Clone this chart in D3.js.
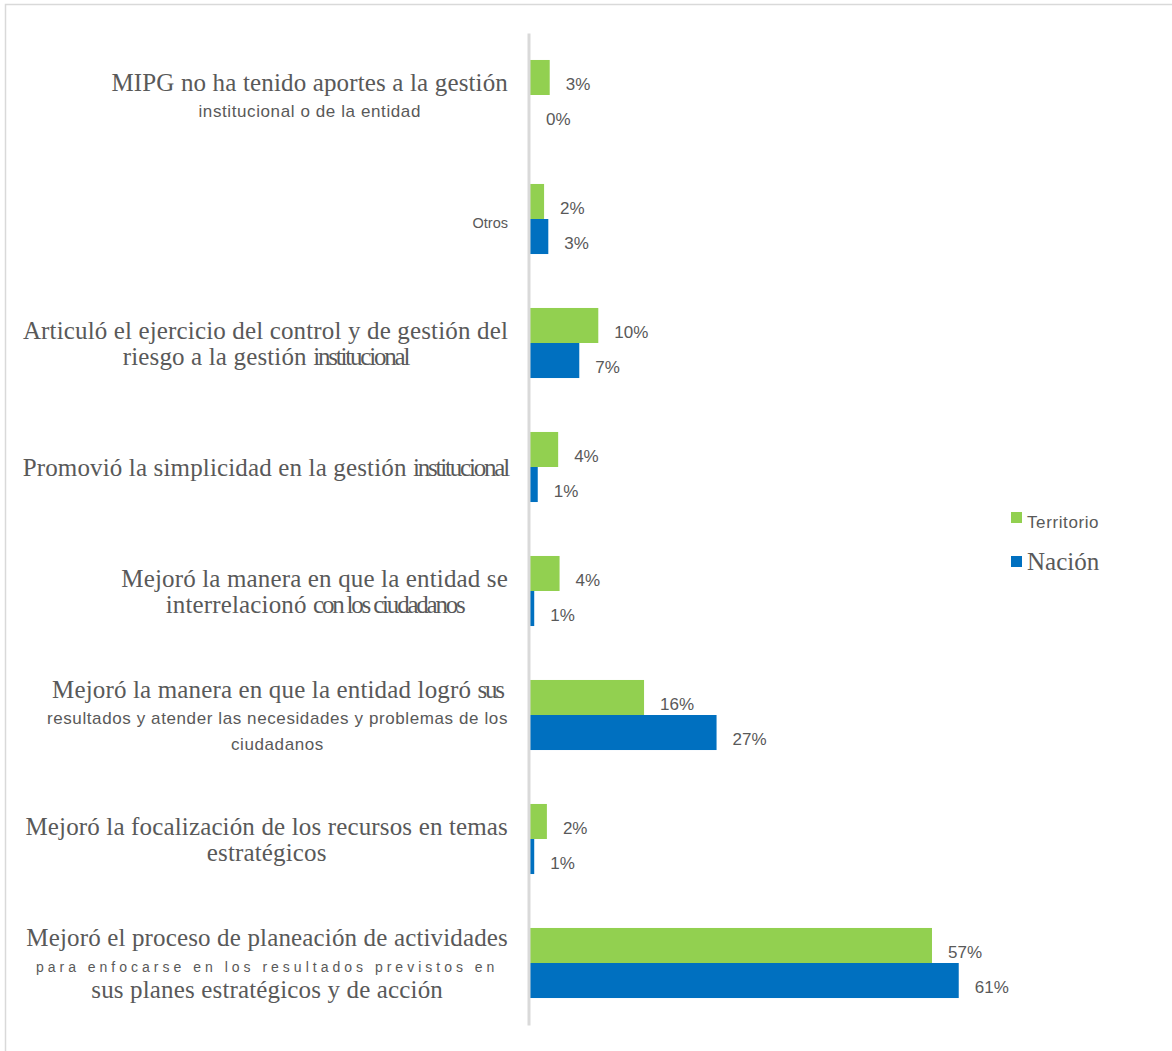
<!DOCTYPE html>
<html>
<head>
<meta charset="utf-8">
<script src="https://cdn.jsdelivr.net/npm/d3@7"></script>
<style>
  body { margin: 0; background: #fff; }
  svg { display: block; }
</style>
</head>
<body>
<svg class="chart"></svg>
<script>
// Categories (top to bottom) and the two series, in percent
var categories = [
    "MIPG no ha tenido aportes a la gestión institucional o de la entidad",
    "Otros",
    "Articuló el ejercicio del control y de gestión del riesgo a la gestión institucional",
    "Promovió la simplicidad en la gestión institucional",
    "Mejoró la manera en que la entidad se interrelacionó con los ciudadanos",
    "Mejoró la manera en que la entidad logró sus resultados y atender las necesidades y problemas de los ciudadanos",
    "Mejoró la focalización de los recursos en temas estratégicos",
    "Mejoró el proceso de planeación de actividades para enfocarse en los resultados previstos en sus planes estratégicos y de acción"
];
var territorio = [2.8, 2.0, 9.7, 4.0, 4.2, 16.2, 2.4, 57.1];
var nacion = [0, 2.6, 7.0, 1.1, 0.6, 26.5, 0.6, 60.9];
var seriesNames = ["Territorio", "Nación"];
var seriesColors = ["#92d050", "#0070c0"];

// How each category label is broken into lines (text + font kind per piece)
var labelLines = [
    [[["serif", "MIPG no ha tenido aportes a la gestión"]], [["sans", "institucional o de la entidad"]]],
    [[["small", "Otros"]]],
    [[["serif", "Articuló el ejercicio del control y de gestión del"]], [["serif", "riesgo a la gestión "], ["cond", "institucional"]]],
    [[["serif", "Promovió la simplicidad en la gestión "], ["cond", "institucional"]]],
    [[["serif", "Mejoró la manera en que la entidad se"]], [["serif", "interrelacionó "], ["cond", "con los ciudadanos"]]],
    [[["serif", "Mejoró la manera en que la entidad logró "], ["cond", "sus"]], [["sans", "resultados y atender las necesidades y problemas de los"]], [["sans", "ciudadanos"]]],
    [[["serif", "Mejoró la focalización de los recursos en temas"]], [["serif", "estratégicos"]]],
    [[["serif", "Mejoró el proceso de planeación de actividades"]], [["spaced", "para enfocarse en los resultados previstos en"]], [["serif", "sus planes estratégicos y de acción"]]]
];

var fonts = {
    serif:  { family: "'Liberation Serif', serif", size: 25, spacing: 0.15 },
    cond:   { family: "'Liberation Serif', serif", size: 25, spacing: -2.2 },
    sans:   { family: "'Liberation Sans', Arial, sans-serif", size: 17, spacing: 0.6 },
    small:  { family: "'Liberation Sans', Arial, sans-serif", size: 14.5, spacing: 0 },
    spaced: { family: "'Liberation Sans', Arial, sans-serif", size: 14, spacing: 4 }
};

const width = 1172;
const height = 1051;
const textColor = "#595959";
const axisX = 530;
const labelRight = 508;

var svg = d3.select(".chart")
    .attr("width", width)
    .attr("height", height);

// chart frame
svg.append("path")
    .attr("d", "M5.5," + height + "V4.5H" + width)
    .attr("fill", "none")
    .attr("stroke", "#d9d9d9")
    .attr("stroke-width", 1.5);

// x position (percent)
var x = d3.scaleLinear()
    .domain([0, 100])
    .range([axisX, axisX + 704]);

// y position of each category
var y = d3.scaleBand()
    .domain(categories)
    .range([33, 1025])
    .padding(0);

// position of each series inside a category
var ySub = d3.scaleBand()
    .domain(seriesNames)
    .range([0, y.bandwidth()])
    .paddingInner(0)
    .paddingOuter(0.77);

var rows = [];
categories.forEach((c, i) => {
    rows.push({ cat: c, series: seriesNames[0], value: territorio[i], color: seriesColors[0] });
    rows.push({ cat: c, series: seriesNames[1], value: nacion[i], color: seriesColors[1] });
});

// bars
svg.selectAll("rect.bar")
    .data(rows)
    .enter()
    .append("rect")
    .attr("class", "bar")
    .attr("x", x(0))
    .attr("y", d => y(d.cat) + ySub(d.series))
    .attr("width", d => x(d.value) - x(0))
    .attr("height", ySub.bandwidth())
    .attr("fill", d => d.color);

// vertical category axis (line only)
var yAxisGroup = svg.append("g")
    .attr("transform", "translate(" + (axisX - 1.5) + ",0)")
    .call(d3.axisLeft(y).tickSize(0).tickSizeOuter(0).tickFormat(""));
yAxisGroup.select(".domain")
    .attr("stroke", "#d9d9d9")
    .attr("stroke-width", 3);

// value labels
svg.selectAll(".count-label")
    .data(rows)
    .enter()
    .append("text")
    .attr("class", "count-label")
    .attr("x", d => x(d.value) + 16)
    .attr("y", d => y(d.cat) + ySub(d.series) + ySub.bandwidth() / 2 + 6.5)
    .attr("dy", "0.35em")
    .text(d => Math.round(d.value) + "%")
    .style("font-family", "'Liberation Sans', Arial, sans-serif")
    .style("font-size", "17px")
    .style("fill", textColor);

// category labels, lines centred on each other, block right-aligned to the axis
var lineStep = 26;
categories.forEach((c, i) => {
    var lines = labelLines[i];
    var g = svg.append("g").attr("class", "cat-label");
    var texts = lines.map((line, j) => {
        var t = g.append("text")
            .attr("y", y(c) + y.bandwidth() / 2 + 3 + (j - (lines.length - 1) / 2) * lineStep)
            .attr("dy", "0.35em")
            .attr("text-anchor", "middle")
            .style("fill", textColor);
        line.forEach(seg => {
            var f = fonts[seg[0]];
            t.append("tspan")
                .text(seg[1])
                .style("font-family", f.family)
                .style("font-size", f.size + "px")
                .style("letter-spacing", f.spacing + "px")
                .style("white-space", "pre");
        });
        return t;
    });
    var maxW = d3.max(texts, t => t.node().getComputedTextLength());
    texts.forEach(t => t.attr("x", labelRight - maxW / 2));
});

// legend
var legend = svg.append("g").attr("class", "legend");
legend.append("rect").attr("x", 1011).attr("y", 512).attr("width", 11).attr("height", 11).attr("fill", seriesColors[0]);
legend.append("text")
    .attr("x", 1027).attr("y", 522).attr("dy", "0.35em")
    .text(seriesNames[0])
    .style("font-family", "'Liberation Sans', Arial, sans-serif")
    .style("font-size", "17px")
    .style("letter-spacing", "0.6px")
    .style("fill", textColor);
legend.append("rect").attr("x", 1011).attr("y", 556).attr("width", 11).attr("height", 11).attr("fill", seriesColors[1]);
legend.append("text")
    .attr("x", 1027).attr("y", 561).attr("dy", "0.35em")
    .text(seriesNames[1])
    .style("font-family", "'Liberation Serif', serif")
    .style("font-size", "25px")
    .style("fill", textColor);
</script>
</body>
</html>
